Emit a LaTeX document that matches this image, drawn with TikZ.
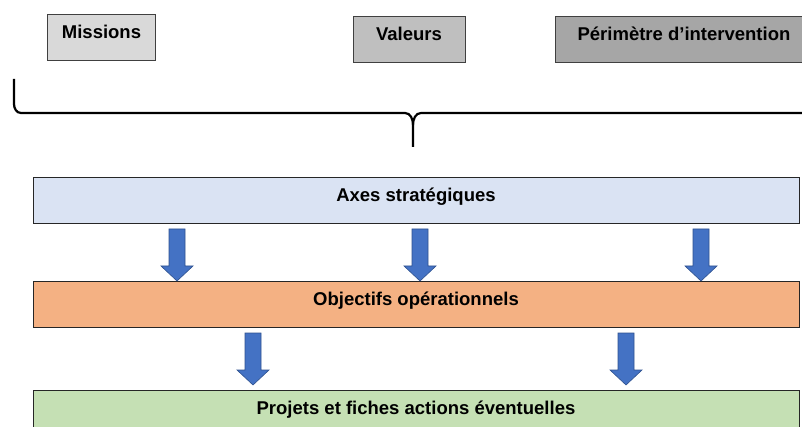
\documentclass[tikz,border=0pt]{standalone}
\usepackage{fontspec}
\setmainfont{Liberation Sans}
\usetikzlibrary{positioning,calc}
\definecolor{grayA}{HTML}{D9D9D9}
\definecolor{grayB}{HTML}{BFBFBF}
\definecolor{grayC}{HTML}{A6A6A6}
\definecolor{axesblue}{HTML}{DAE3F3}
\definecolor{objorange}{HTML}{F4B183}
\definecolor{projgreen}{HTML}{C5E0B4}
\definecolor{arrfill}{HTML}{4472C4}
\definecolor{arredge}{HTML}{2F528F}
\tikzset{txt/.style={font=\fontsize{18.5}{22}\selectfont\bfseries, text height=13.5pt, text depth=10.5pt, inner sep=0pt}}
\tikzset{topbox/.style={txt, rectangle, draw=black!75, line width=0.9pt, minimum height=46pt}}
\tikzset{band/.style={txt, rectangle, draw=black!85, line width=0.9pt, minimum width=766pt, minimum height=46pt}}
\tikzset{downarr/.pic={\filldraw[fill=arrfill, draw=arredge, line width=0.6pt]
  (-8,0) -- (8,0) -- (8,37) -- (16,37) -- (0,52) -- (-16,37) -- (-8,37) -- cycle;}}

\begin{document}
\begin{tikzpicture}[x=1pt, y=-1pt]
\clip (0,0) rectangle (802,427);
\fill[white] (0,0) rectangle (802,427);
% top boxes
\node (missions) at (101.5,37.5) [topbox, fill=grayA, minimum width=108pt] {Missions};
\node (valeurs) at (409,39.5) [topbox, fill=grayB, minimum width=112pt] {Valeurs};
\node (perimetre) at (684,39.5) [topbox, fill=grayC, minimum width=258pt] {Périmètre d’intervention};
% brace
\coordinate (bl) at (14,79);
\coordinate (bc) at (413,147);
\coordinate (br) at (812,113);
\draw[line width=2.2pt] (bl) -- (14,104) to[out=-90,in=180] (21,113) -- (405,113)
  to[out=0,in=90] (bc |- 0,125) -- (bc);
\draw[line width=2.2pt] (bc |- 0,125) to[out=90,in=180] (421,113) -- (br);
% bands
\node (axes) at (416,200) [band, fill=axesblue] {Axes stratégiques};
\node (objectifs) at (416,304) [band, fill=objorange] {Objectifs opérationnels};
\node (projets) at (416,413) [band, fill=projgreen] {Projets et fiches actions éventuelles};
% arrows
\foreach \ax in {177,420,701}
  \pic at (\ax,229) {downarr};
\foreach \ax in {253,626}
  \pic at (\ax,333) {downarr};
\end{tikzpicture}
\end{document}
